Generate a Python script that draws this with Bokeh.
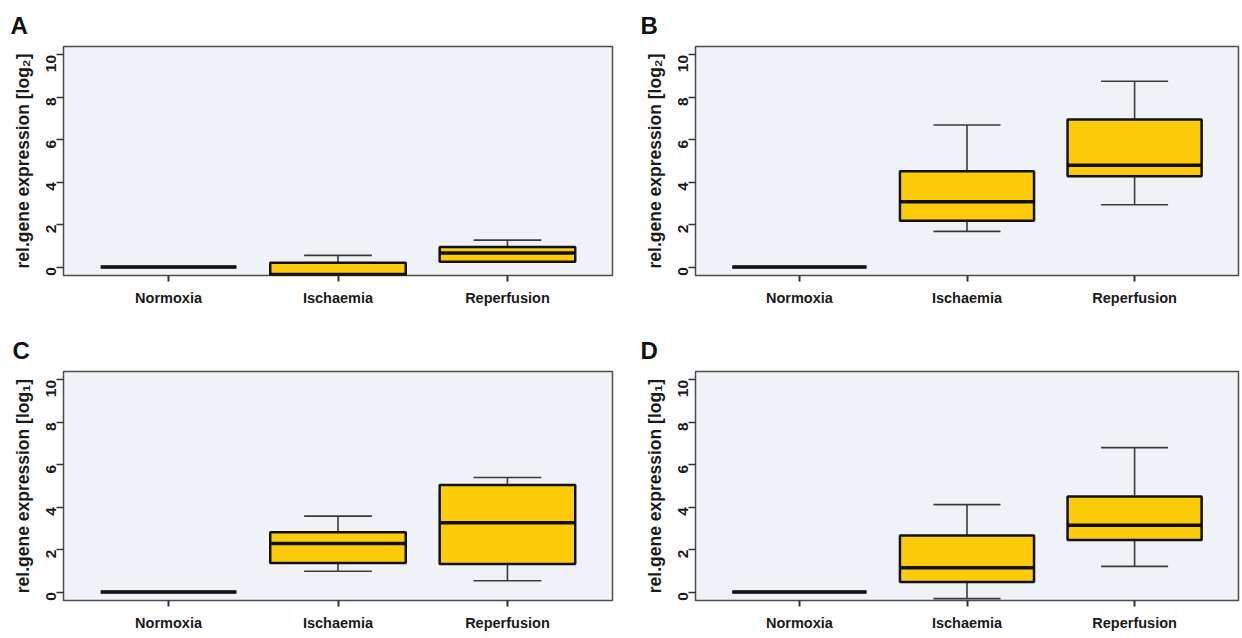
import math
from bokeh.plotting import figure
from bokeh.layouts import column, row
from bokeh.models import ColumnDataSource, FixedTicker, Range1d
from bokeh.transform import dodge
from bokeh.embed import file_html
from bokeh.resources import INLINE

categories = ["Normoxia", "Ischaemia", "Reperfusion"]
positions = [1, 2, 3]
y_ticks = [0, 2, 4, 6, 8, 10]

# per panel: lower whisker, Q1, median, Q3, upper whisker (Normoxia, Ischaemia, Reperfusion)
a_low = [0.0, -0.36, 0.25]
a_q1 = [0.0, -0.36, 0.25]
a_med = [0.0, -0.35, 0.66]
a_q3 = [0.0, 0.20, 0.95]
a_high = [0.0, 0.55, 1.27]

b_low = [0.0, 1.68, 2.94]
b_q1 = [0.0, 2.18, 4.28]
b_med = [0.0, 3.08, 4.80]
b_q3 = [0.0, 4.52, 6.96]
b_high = [0.0, 6.70, 8.76]

c_low = [0.0, 0.98, 0.53]
c_q1 = [0.0, 1.37, 1.32]
c_med = [0.0, 2.29, 3.27]
c_q3 = [0.0, 2.82, 5.05]
c_high = [0.0, 3.58, 5.40]

d_low = [0.0, -0.31, 1.21]
d_q1 = [0.0, 0.47, 2.45]
d_med = [0.0, 1.15, 3.15]
d_q3 = [0.0, 2.67, 4.51]
d_high = [0.0, 4.12, 6.81]

labels_ab = "rel.gene expression [log\u2082]"
labels_cd = "rel.gene expression [log\u2081]"

FONT = "Liberation Sans"
BOX_FILL = "#FDCB0A"
PANEL_BG = "#EFF2F6"
FRAME = "#4d4d4d"


def make_panel(letter, ylabel, low, q1, med, q3, high, width, height,
               bl, br, bt, bb, title_offset):
    p = figure(width=width, height=height, output_backend="svg",
               toolbar_location=None, tools="",
               x_range=Range1d(0.38, 3.62), y_range=Range1d(-0.4, 10.4),
               min_border_left=bl, min_border_right=br,
               min_border_top=bt, min_border_bottom=bb)
    p.background_fill_color = PANEL_BG
    p.border_fill_color = "white"
    p.outline_line_color = FRAME
    p.outline_line_width = 1.5
    p.xgrid.visible = False
    p.ygrid.visible = False

    src = ColumnDataSource(dict(x=positions, low=low, q1=q1, med=med, q3=q3, high=high))
    wc = "#3a3a3a"
    p.segment(x0="x", y0="q3", x1="x", y1="high", source=src, line_color=wc, line_width=1.6)
    p.segment(x0="x", y0="q1", x1="x", y1="low", source=src, line_color=wc, line_width=1.6)
    p.segment(x0=dodge("x", -0.2), y0="high", x1=dodge("x", 0.2), y1="high",
              source=src, line_color=wc, line_width=1.6)
    p.segment(x0=dodge("x", -0.2), y0="low", x1=dodge("x", 0.2), y1="low",
              source=src, line_color=wc, line_width=1.6)
    p.vbar(x="x", width=0.8, bottom="q1", top="q3", source=src,
           fill_color=BOX_FILL, line_color="#111111", line_width=2.5)
    p.segment(x0=dodge("x", -0.4), y0="med", x1=dodge("x", 0.4), y1="med",
              source=src, line_color="#111111", line_width=3.5)

    p.xaxis.ticker = FixedTicker(ticks=positions)
    p.xaxis.major_label_overrides = {pos: cat for pos, cat in zip(positions, categories)}
    p.xaxis.bounds = (1, 3)
    p.xaxis.axis_line_color = None
    p.xaxis.major_tick_in = 0
    p.xaxis.major_tick_out = 6
    p.xaxis.major_tick_line_width = 2
    p.xaxis.major_tick_line_color = "#333333"
    p.xaxis.minor_tick_line_color = None
    p.xaxis.major_label_standoff = 8
    p.xaxis.major_label_text_font = FONT
    p.xaxis.major_label_text_font_style = "bold"
    p.xaxis.major_label_text_font_size = "14.5px"
    p.xaxis.major_label_text_color = "#1a1a1a"

    p.yaxis.ticker = FixedTicker(ticks=y_ticks)
    p.yaxis.bounds = (0, 10)
    p.yaxis.axis_line_color = None
    p.yaxis.major_tick_in = 0
    p.yaxis.major_tick_out = 7
    p.yaxis.major_tick_line_width = 1.6
    p.yaxis.major_tick_line_color = "#333333"
    p.yaxis.minor_tick_line_color = None
    p.yaxis.major_label_orientation = math.pi / 2
    p.yaxis.major_label_standoff = 5
    p.yaxis.major_label_text_font = FONT
    p.yaxis.major_label_text_font_style = "bold"
    p.yaxis.major_label_text_font_size = "15.5px"
    p.yaxis.major_label_text_color = "#1a1a1a"
    p.yaxis.axis_label = ylabel
    p.yaxis.axis_label_standoff = 6
    p.yaxis.axis_label_text_font = FONT
    p.yaxis.axis_label_text_font_style = "bold"
    p.yaxis.axis_label_text_font_size = "17.5px"
    p.yaxis.axis_label_text_color = "#1a1a1a"

    p.title.text = letter
    p.title.align = "left"
    p.title.offset = title_offset
    p.title.text_font = FONT
    p.title.text_font_style = "bold"
    p.title.text_font_size = "24px"
    p.title.text_color = "#111111"
    p.title.standoff = 16
    return p


pA = make_panel("A", labels_ab, a_low, a_q1, a_med, a_q3, a_high,
                628, 318, 63, 16, 46, 43, -53)
pB = make_panel("B", labels_ab, b_low, b_q1, b_med, b_q3, b_high,
                614, 318, 67, 4, 46, 43, -55)
pC = make_panel("C", labels_cd, c_low, c_q1, c_med, c_q3, c_high,
                628, 320, 63, 16, 53, 38, -51)
pD = make_panel("D", labels_cd, d_low, d_q1, d_med, d_q3, d_high,
                614, 320, 67, 4, 53, 38, -55)

layout = column(row(pA, pB), row(pC, pD))
open("out.html", "w").write(file_html(layout, INLINE))
